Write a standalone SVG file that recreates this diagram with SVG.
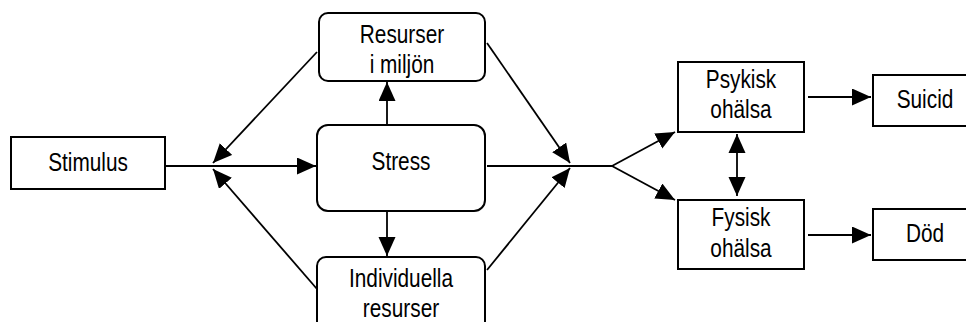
<svg xmlns="http://www.w3.org/2000/svg" width="966" height="322" viewBox="0 0 966 322">
<defs>
<style>
.box{fill:#fff;stroke:#000;stroke-width:2}
.ln{fill:none;stroke:#000;stroke-width:1.8}
.t{font-family:"Liberation Sans",Arial,sans-serif;font-size:26px;text-anchor:middle;fill:#000}
</style>
<marker id="ah" markerUnits="userSpaceOnUse" markerWidth="20" markerHeight="18" refX="19" refY="8.5" orient="auto">
<path d="M0,0 L19,8.5 L0,17 Z" fill="#000"/>
</marker>
<marker id="ahs" markerUnits="userSpaceOnUse" markerWidth="20" markerHeight="18" refX="0" refY="8.5" orient="auto">
<path d="M19,0 L0,8.5 L19,17 Z" fill="#000"/>
</marker>
</defs>
<rect width="966" height="322" fill="#fff"/>
<g id="connectors">
<line class="ln" x1="166" y1="166" x2="316" y2="166" marker-end="url(#ah)"/>
<line class="ln" x1="317" y1="52" x2="213" y2="163" marker-end="url(#ah)"/>
<line class="ln" x1="317" y1="289" x2="213" y2="169" marker-end="url(#ah)"/>
<line class="ln" x1="387" y1="125" x2="387" y2="82" marker-end="url(#ah)"/>
<line class="ln" x1="387" y1="211" x2="387" y2="256" marker-end="url(#ah)"/>
<line class="ln" x1="487" y1="43" x2="570" y2="163" marker-end="url(#ah)"/>
<line class="ln" x1="487" y1="270" x2="570" y2="168" marker-end="url(#ah)"/>
<line class="ln" x1="487" y1="166" x2="612" y2="166"/>
<line class="ln" x1="612" y1="166" x2="675" y2="132" marker-end="url(#ah)"/>
<line class="ln" x1="612" y1="166" x2="675" y2="200" marker-end="url(#ah)"/>
<line class="ln" x1="737" y1="134" x2="737" y2="196" marker-start="url(#ahs)" marker-end="url(#ah)"/>
<line class="ln" x1="808" y1="97" x2="871" y2="97" marker-end="url(#ah)"/>
<line class="ln" x1="808" y1="235" x2="871" y2="235" marker-end="url(#ah)"/>
</g>
<g id="stimulus">
<rect class="box" x="11" y="137" width="154" height="52"/>
<text class="t" transform="translate(88,171) scale(0.8,1)">Stimulus</text>
</g>
<g id="resurser-miljon">
<rect class="box" x="319" y="13" width="166" height="68" rx="9"/>
<text class="t" transform="translate(402,43) scale(0.8,1)">Resurser</text>
<text class="t" transform="translate(402,73) scale(0.8,1)">i miljön</text>
</g>
<g id="stress">
<rect class="box" x="317" y="125" width="168" height="86" rx="11"/>
<text class="t" transform="translate(401,170) scale(0.8,1)">Stress</text>
</g>
<g id="individuella">
<rect class="box" x="317" y="257" width="168" height="80" rx="9"/>
<text class="t" transform="translate(401,287) scale(0.8,1)">Individuella</text>
<text class="t" transform="translate(401,317) scale(0.8,1)">resurser</text>
</g>
<g id="psykisk">
<rect class="box" x="678" y="62" width="126" height="70"/>
<text class="t" transform="translate(741,88) scale(0.8,1)">Psykisk</text>
<text class="t" transform="translate(741,118) scale(0.8,1)">ohälsa</text>
</g>
<g id="fysisk">
<rect class="box" x="678" y="200" width="126" height="69"/>
<text class="t" transform="translate(741,226) scale(0.8,1)">Fysisk</text>
<text class="t" transform="translate(741,257) scale(0.8,1)">ohälsa</text>
</g>
<g id="suicid">
<rect class="box" x="873" y="75" width="100" height="51"/>
<text class="t" transform="translate(925,108) scale(0.8,1)">Suicid</text>
</g>
<g id="dod">
<rect class="box" x="873" y="209" width="100" height="51"/>
<text class="t" transform="translate(925,242) scale(0.8,1)">Död</text>
</g>
</svg>
